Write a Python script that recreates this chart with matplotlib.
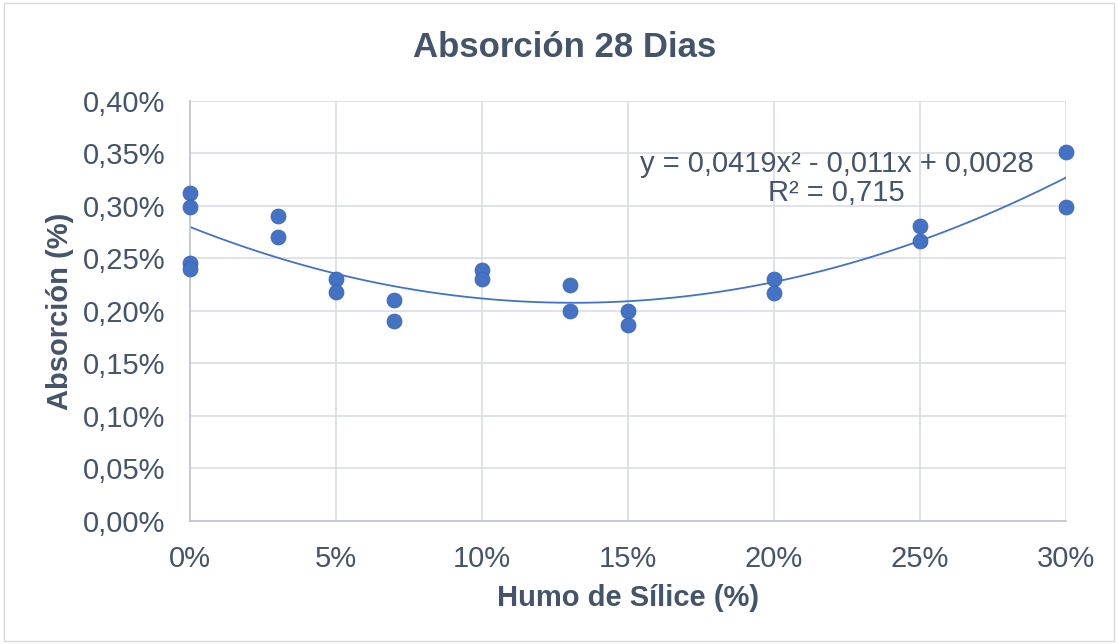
import numpy as np
import matplotlib
matplotlib.use("Agg")
import matplotlib.pyplot as plt
from matplotlib.ticker import FuncFormatter, MultipleLocator

plt.rcParams['font.family'] = ['Liberation Sans', 'DejaVu Sans']

# humo de silice (fraction) and absorcion (fraction)
humo = [0.00, 0.00, 0.00, 0.00,
        0.03, 0.03,
        0.05, 0.05,
        0.07, 0.07,
        0.10, 0.10,
        0.13, 0.13,
        0.15, 0.15,
        0.20, 0.20,
        0.25, 0.25,
        0.30, 0.30]
absorcion = [0.00312, 0.00299, 0.00246, 0.00240,
             0.00290, 0.00270,
             0.00230, 0.00218,
             0.00210, 0.00190,
             0.00239, 0.00230,
             0.00225, 0.00200,
             0.00200, 0.00187,
             0.00230, 0.00217,
             0.00281, 0.00267,
             0.00351, 0.00299]

# trendline coefficients as shown on the chart (a x^2 + b x + c)
trend_coef = [0.0419, -0.011, 0.0028]
eq_text = "y = 0,0419x² - 0,011x + 0,0028\nR² = 0,715"

text_col = "#44546A"
blue = "#4472C4"

fig = plt.figure(figsize=(11.18, 6.44), dpi=100)
ax = fig.add_axes([0.170, 0.191, 0.7835, 0.6522])

xx = np.linspace(0, 0.30, 200)
ax.plot(xx, np.polyval(trend_coef, xx), color=blue, lw=1.3, zorder=2)
ax.scatter(humo, absorcion, s=115, color=blue, edgecolors="#3a65b5",
           linewidths=0.6, zorder=3, clip_on=False)

ax.set_xlim(0, 0.30)
ax.set_ylim(0, 0.004)
ax.xaxis.set_major_locator(MultipleLocator(0.05))
ax.yaxis.set_major_locator(MultipleLocator(0.0005))


def pct(v, pos, nd):
    return ("{:." + str(nd) + "f}%").format(v * 100).replace(".", ",")


ax.xaxis.set_major_formatter(FuncFormatter(lambda v, p: pct(v, p, 0)))
ax.yaxis.set_major_formatter(FuncFormatter(lambda v, p: pct(v, p, 2)))

ax.grid(True, color="#D9DDE5", lw=1.2)
ax.set_axisbelow(True)
for s in ["top", "right"]:
    ax.spines[s].set_visible(False)
for s in ["left", "bottom"]:
    ax.spines[s].set_color("#BFC4CC")
    ax.spines[s].set_linewidth(1.2)
ax.tick_params(length=0, labelsize=21, colors=text_col)
ax.tick_params(axis="y", pad=18)
ax.tick_params(axis="x", pad=17)

ax.set_xlabel("Humo de Sílice (%)", fontsize=21, fontweight="bold",
              color=text_col, labelpad=8)
ax.set_ylabel("Absorción (%)", fontsize=21, fontweight="bold",
              color=text_col, labelpad=6)
fig.text(0.505, 0.927, "Absorción 28 Dias", ha="center", va="center",
         fontsize=25, fontweight="bold", color=text_col)

ax.text(0.2215, 0.00326, eq_text, ha="center", va="center", fontsize=21,
        color=text_col, linespacing=1.05)

# outer chart border
fig.patches.append(plt.Rectangle((0.004, 0.004), 0.992, 0.992,
                                 transform=fig.transFigure, fill=False,
                                 edgecolor="#D9D9D9", lw=1))

fig.savefig("out.png", dpi=100)
